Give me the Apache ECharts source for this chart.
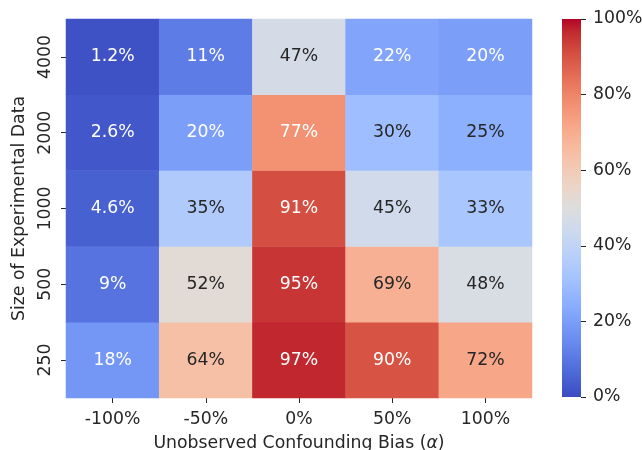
<!DOCTYPE html>
<html>
<head>
<meta charset="utf-8">
<script src="https://cdn.jsdelivr.net/npm/echarts@6/dist/echarts.min.js"></script>
<style>
  html, body { margin: 0; padding: 0; background: #ffffff; }
  #chart { width: 642px; height: 450px; }
</style>
</head>
<body>
<div id="chart"></div>
<script>
// Confounding bias levels (columns) and experimental sample sizes (rows, bottom to top)
const biasLevels = ['-100%', '-50%', '0%', '50%', '100%'];
const sampleSizes = ['250', '500', '1000', '2000', '4000'];

// Percentages per sample size, one entry per bias level
const row250  = [18, 64, 97, 90, 72];
const row500  = [9, 52, 95, 69, 48];
const row1000 = [4.6, 35, 91, 45, 33];
const row2000 = [2.6, 20, 77, 30, 25];
const row4000 = [1.2, 11, 47, 22, 20];

// Colour bar ticks
const colorbarTicks = [0, 20, 40, 60, 80, 100];

const rows = [row250, row500, row1000, row2000, row4000];

// coolwarm diverging colormap (Moreland), 33 evenly spaced samples, 0-255
const coolwarm = [
  [59, 76, 192], [68, 90, 204], [77, 104, 215], [87, 117, 225],
  [98, 130, 234], [108, 142, 241], [119, 154, 247], [130, 165, 251],
  [141, 176, 254], [152, 185, 255], [163, 194, 255], [174, 201, 253],
  [184, 208, 249], [194, 213, 244], [204, 217, 238], [213, 219, 230],
  [221, 221, 221], [229, 216, 209], [236, 211, 197], [241, 204, 184],
  [245, 196, 173], [247, 187, 160], [247, 177, 148], [247, 166, 135],
  [244, 154, 123], [241, 141, 111], [236, 127, 99], [229, 112, 88],
  [222, 96, 77], [213, 80, 66], [203, 62, 56], [192, 40, 47],
  [180, 4, 38]
];
const toCss = c => 'rgb(' + c.join(',') + ')';
const paletteCss = coolwarm.map(toCss);

function sampleMap(t) {
  const pos = Math.max(0, Math.min(1, t)) * (coolwarm.length - 1);
  const i = Math.min(Math.floor(pos), coolwarm.length - 2);
  const f = pos - i;
  return coolwarm[i].map((a, k) => (a + (coolwarm[i + 1][k] - a) * f) / 255);
}
function luminance(rgb) {
  const lin = rgb.map(c => c <= 0.03928 ? c / 12.92 : Math.pow((c + 0.055) / 1.055, 2.4));
  return 0.2126 * lin[0] + 0.7152 * lin[1] + 0.0722 * lin[2];
}
const fmt = v => Number(v.toPrecision(2)).toString() + '%';

const cells = [];
rows.forEach((vals, y) => {
  vals.forEach((v, x) => {
    const dark = luminance(sampleMap(v / 100)) > 0.408;
    cells.push({
      value: [x, y, v],
      label: { color: dark ? '#262626' : '#ffffff' }
    });
  });
});

const textColor = '#262626';
const font = 'DejaVu Sans';
const fs = 17.3;

const chart = echarts.init(document.getElementById('chart'), null, { renderer: 'canvas' });
chart.setOption({
  backgroundColor: '#ffffff',
  animation: false,
  textStyle: { fontFamily: font },
  grid: [
    { left: 66, top: 19, width: 466, height: 379, outerBoundsMode: 'none', containLabel: false },
    { left: 562, top: 19, width: 19, height: 378, outerBoundsMode: 'none', containLabel: false }
  ],
  xAxis: [
    {
      type: 'category', gridIndex: 0, data: biasLevels,
      axisLine: { show: false },
      axisTick: { show: true, alignWithLabel: true, length: 5, lineStyle: { color: textColor } },
      axisLabel: { color: textColor, fontSize: fs, fontFamily: font, margin: 13 },
      splitLine: { show: false },
      name: 'Unobserved Confounding Bias ({it|α})',
      nameLocation: 'middle', nameGap: 37,
      nameTextStyle: {
        color: textColor, fontSize: fs, fontFamily: font,
        rich: { it: { fontStyle: 'italic', fontSize: fs, fontFamily: font, color: textColor } }
      }
    },
    { type: 'category', gridIndex: 1, data: ['c'], show: false }
  ],
  yAxis: [
    {
      type: 'category', gridIndex: 0, data: sampleSizes,
      axisLine: { show: false },
      axisTick: { show: true, alignWithLabel: true, length: 5, lineStyle: { color: textColor } },
      axisLabel: { color: textColor, fontSize: fs, fontFamily: font, rotate: 90, margin: 12 },
      splitLine: { show: false },
      name: 'Size of Experimental Data',
      nameLocation: 'middle', nameGap: 38,
      nameTextStyle: { color: textColor, fontSize: fs, fontFamily: font }
    },
    {
      type: 'value', gridIndex: 1, min: 0, max: 100, interval: 20, position: 'right',
      axisLine: { show: false },
      axisTick: { show: true, length: 5, lineStyle: { color: textColor } },
      axisLabel: {
        color: textColor, fontSize: fs, fontFamily: font, margin: 12,
        formatter: v => colorbarTicks.includes(v) ? v + '%' : ''
      },
      splitLine: { show: false }
    }
  ],
  visualMap: {
    show: false, seriesIndex: 0, dimension: 2,
    min: 0, max: 100, inRange: { color: paletteCss }
  },
  series: [
    {
      type: 'heatmap', xAxisIndex: 0, yAxisIndex: 0,
      data: cells,
      label: {
        show: true, fontSize: fs, fontFamily: font,
        formatter: p => fmt(p.value[2])
      },
      itemStyle: { borderWidth: 0 },
      emphasis: { disabled: true }
    },
    {
      // colour bar: a single gradient rectangle spanning the value axis
      type: 'custom', xAxisIndex: 1, yAxisIndex: 1,
      data: [[0, colorbarTicks[0], colorbarTicks[colorbarTicks.length - 1]]],
      renderItem: (params, api) => {
        const lo = api.coord([0, api.value(1)]);
        const hi = api.coord([0, api.value(2)]);
        const cs = params.coordSys;
        const n = paletteCss.length - 1;
        const stops = paletteCss.map((c, i) => ({ offset: 1 - i / n, color: c })).reverse();
        return {
          type: 'rect',
          shape: { x: cs.x, y: hi[1], width: cs.width, height: lo[1] - hi[1] },
          style: { fill: new echarts.graphic.LinearGradient(0, 0, 0, 1, stops) }
        };
      },
      silent: true
    }
  ]
});
</script>
</body>
</html>
